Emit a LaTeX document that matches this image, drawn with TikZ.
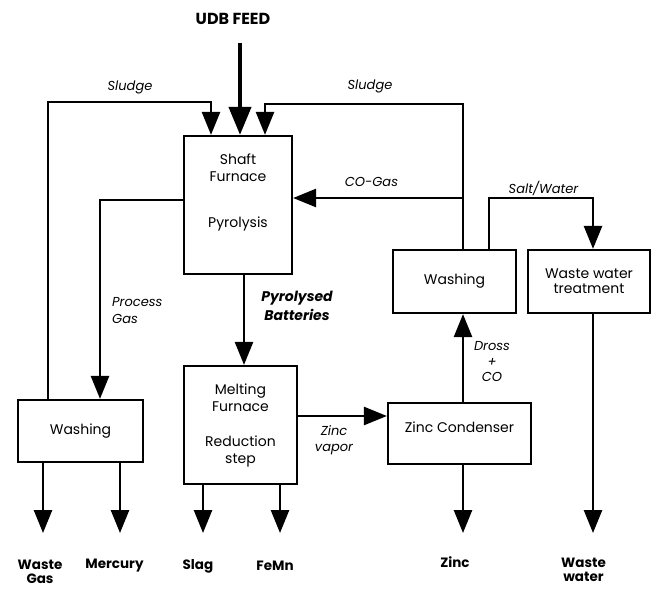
\documentclass[tikz,border=0pt]{standalone}
\usepackage{fontspec}
\setmainfont{Poppins}
\usetikzlibrary{arrows.meta, positioning}

\begin{document}
\begin{tikzpicture}[x=1pt, y=-1pt,
        box/.style={rectangle, draw=black, line width=2.2pt, align=center,
                    font=\fontsize{14}{17}\selectfont, inner sep=0pt},
        arr/.style={-{Triangle[length=23pt,width=18pt]}, line width=2.6pt, black},
        lbl/.style={font=\itshape\fontsize{13}{17}\selectfont, align=left, inner sep=0pt},
        prod/.style={font=\bfseries\fontsize{13.5}{14}\selectfont, align=center, inner sep=0pt}]
      \useasboundingbox (0,0) rectangle (652,588);
      % process boxes
      \node[box, minimum width=108pt, minimum height=138pt] (sf) at (238,205)
            {Shaft\\Furnace\\[29pt]Pyrolysis\\[12pt]};
      \node[box, minimum width=113pt, minimum height=118pt] (mf) at (240.5,425)
            {Melting\\Furnace\\[18pt]Reduction\\step};
      \node[box, minimum width=125pt, minimum height=62pt] (wl) at (80.5,431) {Washing};
      \node[box, minimum width=123pt, minimum height=63pt] (wr) at (454.5,281.5) {Washing};
      \node[box, minimum width=122pt, minimum height=63pt] (wwt) at (589,281.5)
            {Waste water\\[-2pt]treatment};
      \node[box, minimum width=143pt, minimum height=61pt] (zc) at (459.5,433.5)
            {Zinc Condenser\\[-5pt]};
      % feed and products
      \node[prod, font=\bfseries\fontsize{16}{18}\selectfont] (feed) at (233,19) {UDB FEED};
      \node[prod] (wgas) at (40,572) {Waste\\Gas};
      \node[prod] (hg) at (114.5,566) {Mercury};
      \node[prod] (slag) at (198,566) {Slag};
      \node[prod] (femn) at (275,566) {FeMn};
      \node[prod] (zn) at (455,562) {Zinc};
      \node[prod] (ww) at (583.5,570) {Waste\\water};
      \coordinate (feedtop) at (240,43);
      \coordinate (wgasend) at (43,533);
      \coordinate (hgend) at (120,533);
      \coordinate (slagend) at (203,533);
      \coordinate (femnend) at (280,533);
      \coordinate (znend) at (463,533);
      \coordinate (wwend) at (593,533);
      % streams
      \draw[arr, line width=4pt, -{Triangle[length=28pt,width=22pt]}] (feedtop) -- (sf.north -| feedtop);
      \draw[arr] (wl.north -| 48,0) |- (211,102) -- (sf.north -| 211,0);
      \draw[arr] (wr.north -| 463,0) |- (265,104) -- (sf.north -| 265,0);
      \draw[arr] (463,198) -- (sf.east |- 0,198);
      \draw[arr] (sf.west |- 0,200) -| (wl.north -| 100,0);
      \draw[arr] (sf.south -| 244,0) -- (mf.north -| 244,0);
      \draw[arr] (mf.east |- 0,416) -- (zc.west |- 0,416);
      \draw[arr] (zc.north -| 463,0) -- (wr.south -| 463,0);
      \draw[arr] (wr.north -| 489,0) |- (593,198) -- (wwt.north -| 593,0);
      \draw[arr] (wl.south -| wgasend) -- (wgasend);
      \draw[arr] (wl.south -| hgend) -- (hgend);
      \draw[arr] (mf.south -| slagend) -- (slagend);
      \draw[arr] (mf.south -| femnend) -- (femnend);
      \draw[arr] (zc.south -| znend) -- (znend);
      \draw[arr] (wwt.south -| wwend) -- (wwend);
      % stream labels
      \node[lbl] (sl1) at (130,87) {Sludge};
      \node[lbl] (sl2) at (370,86) {Sludge};
      \node[lbl] (cog) at (371.5,182) {CO-Gas};
      \node[lbl] (saw) at (543.5,188) {Salt/Water};
      \node[lbl, anchor=west] (pgas) at (112,311) {Process\\Gas};
      \node[lbl, align=center, font=\bfseries\itshape\fontsize{14}{19}\selectfont] (pyb) at (297,306)
            {Pyrolysed\\Batteries};
      \node[lbl, align=center, font=\itshape\fontsize{13}{16}\selectfont] (znv) at (334,440) {Zinc\\vapor};
      \node[lbl, align=center, font=\itshape\fontsize{13}{15.5}\selectfont] (dco) at (492,362)
            {Dross\\+\\CO};
    \end{tikzpicture}
\end{document}
